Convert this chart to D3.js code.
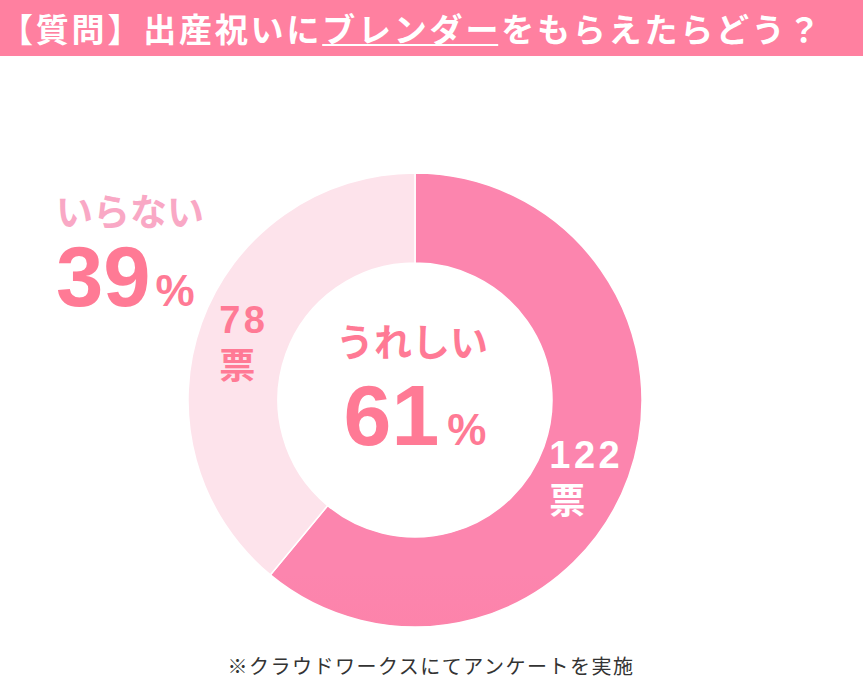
<!DOCTYPE html>
<html lang="ja">
<head>
<meta charset="utf-8">
<title>出産祝いにブレンダー</title>
<style>
  body { margin: 0; background: #fff; }
  svg { display: block; }
</style>
</head>
<body>
<div id="chart"></div>
<script src="https://cdn.jsdelivr.net/npm/d3@7"></script>
<script>
// data
const labels = ["うれしい", "いらない"];
const votes = [122, 78];
const percents = [61, 39];
const titleText = "【質問】出産祝いにブレンダーをもらえたらどう？";
const underlineWord = "ブレンダー";
const note = "※クラウドワークスにてアンケートを実施";

const width = 863, height = 688;
const cx = 415, cy = 400;
const outerR = 227, innerR = 137;
const pink = "#ff7a95";
const jp = "'Noto Sans CJK JP', 'Noto Sans', sans-serif";
const num = "'Liberation Sans', Arial, sans-serif";

const svg = d3.select("#chart").append("svg")
  .attr("width", width)
  .attr("height", height);

// gradient for the big slice
const defs = svg.append("defs");
const grad = defs.append("linearGradient")
  .attr("id", "mainGrad")
  .attr("gradientUnits", "userSpaceOnUse")
  .attr("x1", 0).attr("y1", cy - outerR)
  .attr("x2", 0).attr("y2", cy + outerR);
grad.append("stop").attr("offset", "0%").attr("stop-color", "#fc85ae");
grad.append("stop").attr("offset", "100%").attr("stop-color", "#ff758e");

// header band
svg.append("rect")
  .attr("x", 0).attr("y", 0)
  .attr("width", width).attr("height", 56)
  .attr("fill", "#ff80a0");

const title = svg.append("text")
  .attr("x", 0)
  .attr("y", 28)
  .attr("dominant-baseline", "central")
  .attr("font-family", jp)
  .attr("font-weight", 700)
  .attr("font-size", 33)
  .attr("letter-spacing", 2.8)
  .attr("fill", "#fff")
  .text(titleText);

// underline under ブレンダー
const tNode = title.node();
const i0 = titleText.indexOf(underlineWord);
const i1 = i0 + underlineWord.length - 1;
const ux0 = tNode.getStartPositionOfChar(i0).x;
const ux1 = tNode.getEndPositionOfChar(i1).x;
svg.append("line")
  .attr("x1", ux0).attr("x2", ux1 - 3)
  .attr("y1", 45).attr("y2", 45)
  .attr("stroke", "#fff")
  .attr("stroke-width", 2);

// donut
const pie = d3.pie().sort(null).value(d => d);
const arcs = pie(votes);
const arc = d3.arc().innerRadius(innerR).outerRadius(outerR);
const fills = ["url(#mainGrad)", "#fde3eb"];

const g = svg.append("g").attr("transform", `translate(${cx},${cy})`);
g.selectAll("path")
  .data(arcs)
  .join("path")
  .attr("d", arc)
  .attr("fill", (d, i) => fills[i])
  .attr("stroke", "#fff")
  .attr("stroke-width", 1.5);

// vote labels on the slices
const voteColors = ["#fff", pink];
const voteShift = [14, 3];
arcs.forEach((d, i) => {
  const [x, y] = arc.centroid(d);
  const yc = y + voteShift[i];
  const n = g.append("text")
    .attr("x", x)
    .attr("y", yc - 8)
    .attr("text-anchor", "middle")
    .attr("font-family", num)
    .attr("font-weight", 700)
    .attr("font-size", 38)
    .attr("letter-spacing", 3.5)
    .attr("fill", voteColors[i])
    .text(votes[i]);
  const bb = n.node().getBBox();
  g.append("text")
    .attr("x", bb.x)
    .attr("y", yc + 22)
    .attr("dominant-baseline", "central")
    .attr("font-family", jp)
    .attr("font-weight", 700)
    .attr("font-size", 36)
    .attr("fill", voteColors[i])
    .text("票");
});

// centre label (うれしい)
svg.append("text")
  .attr("x", 412)
  .attr("y", 339)
  .attr("text-anchor", "middle")
  .attr("dominant-baseline", "central")
  .attr("font-family", jp)
  .attr("font-weight", 700)
  .attr("font-size", 38)
  .attr("fill", pink)
  .text(labels[0]);

const big = svg.append("text")
  .attr("x", 415)
  .attr("y", 445)
  .attr("text-anchor", "middle")
  .attr("font-family", num)
  .attr("font-weight", 700)
  .attr("fill", pink);
big.append("tspan").attr("font-size", 86).text(percents[0]);
big.append("tspan").attr("font-size", 44).attr("dx", 8).text("%");

// left label (いらない)
svg.append("text")
  .attr("x", 56)
  .attr("y", 210)
  .attr("dominant-baseline", "central")
  .attr("font-family", jp)
  .attr("font-weight", 700)
  .attr("font-size", 37)
  .attr("fill", "#f9a8c5")
  .text(labels[1]);

const left = svg.append("text")
  .attr("x", 56)
  .attr("y", 306)
  .attr("font-family", num)
  .attr("font-weight", 700)
  .attr("fill", pink);
left.append("tspan").attr("font-size", 85).text(percents[1]);
left.append("tspan").attr("font-size", 44).attr("dx", 5).text("%");

// footnote
svg.append("text")
  .attr("x", 431)
  .attr("y", 665)
  .attr("text-anchor", "middle")
  .attr("dominant-baseline", "central")
  .attr("font-family", jp)
  .attr("font-size", 20)
  .attr("letter-spacing", 1.5)
  .attr("fill", "#333")
  .text(note);
</script>
</body>
</html>
